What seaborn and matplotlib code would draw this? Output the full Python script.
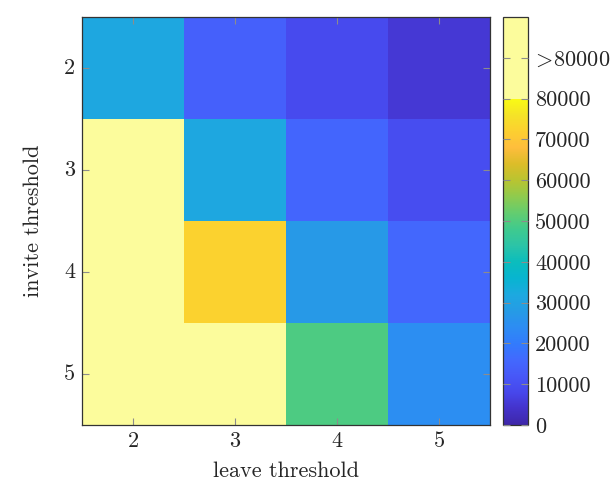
import numpy as np
import pandas as pd
import matplotlib
matplotlib.use("Agg")
import matplotlib.pyplot as plt
from matplotlib.colors import LinearSegmentedColormap
import seaborn as sns

# Thresholds on each axis
leave_thresholds = [2, 3, 4, 5]
invite_thresholds = [2, 3, 4, 5]

# Cell values per invite threshold (rows) and leave threshold (columns);
# 90000 stands for the saturated ">80000" band
row_invite_2 = [31500, 14000, 8800, 5100]
row_invite_3 = [90000, 31500, 15200, 9500]
row_invite_4 = [90000, 72400, 27300, 15500]
row_invite_5 = [90000, 90000, 49600, 24400]

cbar_ticks = [0, 10000, 20000, 30000, 40000, 50000, 60000, 70000, 80000, 90000]
cbar_labels = ["0", "10000", "20000", "30000", "40000", "50000",
               "60000", "70000", "80000", r"$\!>\!\mathrm{80000}$"]

sns.set_style("white")
plt.rcParams["font.family"] = ["cmr10"]
plt.rcParams["mathtext.fontset"] = "cm"
plt.rcParams["axes.unicode_minus"] = False

# Parula-style colour ramp for 0..80000, then a pale band for values above
parula = [
    (0.2422, 0.1504, 0.6603), (0.2647, 0.1978, 0.7952), (0.2803, 0.2782, 0.9221),
    (0.2795, 0.3447, 0.9717), (0.2602, 0.4123, 0.9952), (0.1963, 0.4847, 0.9892),
    (0.1764, 0.5499, 0.9520), (0.1460, 0.6091, 0.8979), (0.1113, 0.6635, 0.8763),
    (0.0297, 0.7082, 0.8163), (0.0433, 0.7411, 0.7394), (0.1717, 0.7670, 0.6554),
    (0.2470, 0.7918, 0.5567), (0.3909, 0.8029, 0.4354), (0.5616, 0.7942, 0.3045),
    (0.7242, 0.7698, 0.1910), (0.8634, 0.7406, 0.1596), (0.9956, 0.7434, 0.2371),
    (0.9892, 0.8136, 0.1885), (0.9610, 0.8890, 0.1537), (0.9769, 0.9839, 0.0805),
]
vmax = 100000
split = 80000 / vmax
stops = []
for i, c in enumerate(parula):
    stops.append((split * i / (len(parula) - 1), c))
over = (0.988, 0.988, 0.612)
stops.append((split + 1e-6, over))
stops.append((1.0, over))
cmap = LinearSegmentedColormap.from_list("parula_over", stops, N=1024)

df = pd.DataFrame([row_invite_2, row_invite_3, row_invite_4, row_invite_5],
                  index=invite_thresholds, columns=leave_thresholds)

fig = plt.figure(figsize=(6.14, 4.84), dpi=100)
ax = fig.add_axes([0.1336, 0.1219, 0.6645, 0.843])
cax = fig.add_axes([0.8192, 0.1219, 0.0407, 0.843])

sns.heatmap(df, ax=ax, cbar_ax=cax, cmap=cmap, vmin=0, vmax=vmax,
            xticklabels=leave_thresholds, yticklabels=invite_thresholds)
ax.set_axisbelow(False)
cax.set_axisbelow(False)

tick_grey = "#8c8c8c"
fs = 16
ax.tick_params(axis="both", direction="in", length=5, width=0.8, color=tick_grey,
               labelsize=fs, top=True, right=True, bottom=True, left=True, pad=5)
ax.set_yticklabels([str(v) for v in invite_thresholds], rotation=0)
ax.set_xticklabels([str(v) for v in leave_thresholds], rotation=0)
ax.set_xlabel("leave threshold", fontsize=fs, labelpad=7)
ax.set_ylabel("invite threshold", fontsize=fs, labelpad=15)
for s in ax.spines.values():
    s.set_visible(True)
    s.set_color("#333333")
    s.set_linewidth(0.9)
    s.set_zorder(3)

cbar = ax.collections[0].colorbar
cbar.set_ticks(cbar_ticks)
cbar.set_ticklabels(cbar_labels)
cax.tick_params(direction="in", length=5, width=0.8, color=tick_grey,
                labelsize=fs, left=True, right=True, pad=5)
cbar.outline.set_edgecolor("#333333")
cbar.outline.set_linewidth(0.9)

fig.savefig("out.png", dpi=100)
